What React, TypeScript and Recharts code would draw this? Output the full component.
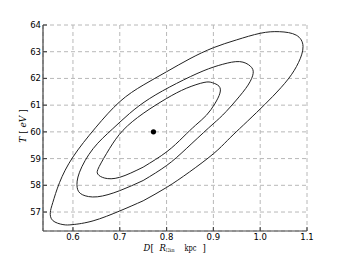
import { CartesianGrid, Scatter, ScatterChart, XAxis, YAxis } from "recharts";

// contour levels (D, T)
const outerContour = [
  { x: 0.75, y: 57.42 },
  { x: 0.8, y: 57.92 },
  { x: 0.849, y: 58.5 },
  { x: 0.9, y: 59.18 },
  { x: 0.93, y: 59.68 },
  { x: 0.956, y: 60.12 },
  { x: 0.992, y: 60.72 },
  { x: 1.027, y: 61.33 },
  { x: 1.06, y: 61.98 },
  { x: 1.082, y: 62.6 },
  { x: 1.0915, y: 63.2 },
  { x: 1.077, y: 63.62 },
  { x: 1.041, y: 63.75 },
  { x: 1.0, y: 63.69 },
  { x: 0.949, y: 63.44 },
  { x: 0.9, y: 63.15 },
  { x: 0.85, y: 62.74 },
  { x: 0.8, y: 62.25 },
  { x: 0.75, y: 61.75 },
  { x: 0.7, y: 61.13 },
  { x: 0.648, y: 60.15 },
  { x: 0.6, y: 59.06 },
  { x: 0.5715, y: 58.11 },
  { x: 0.557, y: 57.36 },
  { x: 0.5516, y: 56.98 },
  { x: 0.557, y: 56.68 },
  { x: 0.5786, y: 56.53 },
  { x: 0.6, y: 56.53 },
  { x: 0.643, y: 56.67 },
  { x: 0.7, y: 57.04 },
  { x: 0.75, y: 57.42 },
];

const middleContour = [
  { x: 0.75, y: 58.18 },
  { x: 0.8, y: 58.74 },
  { x: 0.842, y: 59.37 },
  { x: 0.89, y: 60.15 },
  { x: 0.92, y: 60.63 },
  { x: 0.949, y: 61.19 },
  { x: 0.974, y: 61.75 },
  { x: 0.985, y: 62.19 },
  { x: 0.979, y: 62.46 },
  { x: 0.956, y: 62.63 },
  { x: 0.92, y: 62.53 },
  { x: 0.878, y: 62.28 },
  { x: 0.821, y: 61.81 },
  { x: 0.764, y: 61.25 },
  { x: 0.721, y: 60.69 },
  { x: 0.684, y: 60.1 },
  { x: 0.643, y: 59.37 },
  { x: 0.614, y: 58.49 },
  { x: 0.609, y: 57.92 },
  { x: 0.62, y: 57.65 },
  { x: 0.652, y: 57.57 },
  { x: 0.7, y: 57.8 },
  { x: 0.75, y: 58.18 },
];

const innerContour = [
  { x: 0.75, y: 58.68 },
  { x: 0.8, y: 59.25 },
  { x: 0.835, y: 59.8 },
  { x: 0.862, y: 60.25 },
  { x: 0.885, y: 60.62 },
  { x: 0.903, y: 61.05 },
  { x: 0.914, y: 61.45 },
  { x: 0.912, y: 61.71 },
  { x: 0.898, y: 61.84 },
  { x: 0.88, y: 61.85 },
  { x: 0.842, y: 61.63 },
  { x: 0.8, y: 61.25 },
  { x: 0.75, y: 60.69 },
  { x: 0.707, y: 60.06 },
  { x: 0.678, y: 59.37 },
  { x: 0.656, y: 58.7 },
  { x: 0.653, y: 58.42 },
  { x: 0.668, y: 58.27 },
  { x: 0.7, y: 58.3 },
  { x: 0.75, y: 58.68 },
];

const bestFit = [{ x: 0.772, y: 60.0 }];

const xTicks = [0.6, 0.7, 0.8, 0.9, 1.0, 1.1];
const yTicks = [57, 58, 59, 60, 61, 62, 63, 64];
const xMinorTicks = [
  0.54, 0.56, 0.58, 0.62, 0.64, 0.66, 0.68, 0.72, 0.74, 0.76, 0.78, 0.82,
  0.84, 0.86, 0.88, 0.92, 0.94, 0.96, 0.98, 1.02, 1.04, 1.06, 1.08,
];
const yMinorTicks = [
  56.4, 56.6, 56.8, 57.2, 57.4, 57.6, 57.8, 58.2, 58.4, 58.6, 58.8, 59.2,
  59.4, 59.6, 59.8, 60.2, 60.4, 60.6, 60.8, 61.2, 61.4, 61.6, 61.8, 62.2,
  62.4, 62.6, 62.8, 63.2, 63.4, 63.6, 63.8,
];

const xDomain = [0.536, 1.1];
const yDomain = [56.29, 64];

const frame = "#444";
const ink = "#000";
const tickFont = { fontSize: 8.5, fill: ink, fontFamily: "DejaVu Sans" };
const serif = "DejaVu Serif";

const noSymbol = () => <g />;

const dot = (props: any) => (
  <circle cx={props.cx} cy={props.cy} r={2.6} fill={ink} />
);

// D [ R_12km  kpc ]
const XLabel = () => (
  <g fontFamily={serif} fontSize={8.5} fill={ink}>
    <text x={143.5} y={250.5} fontStyle="italic">
      D
    </text>
    <text x={150.5} y={250.5}>
      [
    </text>
    <text x={159.5} y={250.5} fontStyle="italic">
      R
    </text>
    <text
      x={165.5}
      y={252}
      fontSize={5}
      textLength={9}
      lengthAdjust="spacingAndGlyphs"
    >
      12km
    </text>
    <text x={184.5} y={250.5} textLength={12} lengthAdjust="spacingAndGlyphs">
      kpc
    </text>
    <text x={202.5} y={250.5}>
      ]
    </text>
  </g>
);

const YLabel = () => (
  <text
    x={26}
    y={126}
    textAnchor="middle"
    fontFamily={serif}
    fontSize={9}
    fill={ink}
    transform="rotate(-90, 26, 126)"
    style={{ whiteSpace: "pre" }}
  >
    <tspan fontStyle="italic">T</tspan>
    <tspan> [ </tspan>
    <tspan fontStyle="italic">eV</tspan>
    <tspan> ]</tspan>
  </text>
);

export default function App() {
  return (
    <div style={{ position: "absolute", left: 0, top: 0 }}>
      <ScatterChart
        width={341}
        height={257}
        margin={{ top: 25, right: 34, bottom: 0, left: 0 }}
      >
        <CartesianGrid stroke="#b8b8b8" strokeDasharray="4 3" />
        {/* minor ticks and mirrored frame axes first, zero size */}
        <XAxis
          xAxisId="xminor"
          type="number"
          dataKey="x"
          domain={xDomain}
          allowDataOverflow
          ticks={xMinorTicks}
          height={0}
          tick={false}
          tickSize={-2}
          axisLine={false}
          stroke={frame}
        />
        <XAxis
          xAxisId="xtop"
          orientation="top"
          type="number"
          dataKey="x"
          domain={xDomain}
          allowDataOverflow
          ticks={xTicks}
          height={0}
          tick={false}
          tickSize={-4}
          stroke={frame}
          strokeWidth={1.2}
        />
        <XAxis
          xAxisId="xtopminor"
          orientation="top"
          type="number"
          dataKey="x"
          domain={xDomain}
          allowDataOverflow
          ticks={xMinorTicks}
          height={0}
          tick={false}
          tickSize={-2}
          axisLine={false}
          stroke={frame}
        />
        <XAxis
          type="number"
          dataKey="x"
          domain={xDomain}
          allowDataOverflow
          ticks={xTicks}
          tickFormatter={(v: number) => v.toFixed(1)}
          height={26}
          tickSize={-4}
          tickMargin={7}
          tick={tickFont}
          stroke={frame}
          strokeWidth={1.2}
          label={<XLabel />}
        />
        <YAxis
          yAxisId="yminor"
          type="number"
          dataKey="y"
          domain={yDomain}
          allowDataOverflow
          ticks={yMinorTicks}
          width={0}
          tick={false}
          tickSize={-2}
          axisLine={false}
          stroke={frame}
        />
        <YAxis
          yAxisId="yright"
          orientation="right"
          type="number"
          dataKey="y"
          domain={yDomain}
          allowDataOverflow
          ticks={yTicks}
          width={0}
          tick={false}
          tickSize={-4}
          stroke={frame}
          strokeWidth={1.2}
        />
        <YAxis
          yAxisId="yrightminor"
          orientation="right"
          type="number"
          dataKey="y"
          domain={yDomain}
          allowDataOverflow
          ticks={yMinorTicks}
          width={0}
          tick={false}
          tickSize={-2}
          axisLine={false}
          stroke={frame}
        />
        <YAxis
          type="number"
          dataKey="y"
          domain={yDomain}
          allowDataOverflow
          ticks={yTicks}
          width={43}
          tickSize={-4}
          tickMargin={6}
          tick={tickFont}
          stroke={frame}
          strokeWidth={1.2}
          label={<YLabel />}
        />
        <Scatter
          data={outerContour}
          line={{ stroke: "#222", strokeWidth: 1 }}
          lineJointType="natural"
          shape={noSymbol}
          isAnimationActive={false}
        />
        <Scatter
          data={middleContour}
          line={{ stroke: "#222", strokeWidth: 1 }}
          lineJointType="natural"
          shape={noSymbol}
          isAnimationActive={false}
        />
        <Scatter
          data={innerContour}
          line={{ stroke: "#222", strokeWidth: 1 }}
          lineJointType="natural"
          shape={noSymbol}
          isAnimationActive={false}
        />
        <Scatter data={bestFit} shape={dot} isAnimationActive={false} />
      </ScatterChart>
    </div>
  );
}
